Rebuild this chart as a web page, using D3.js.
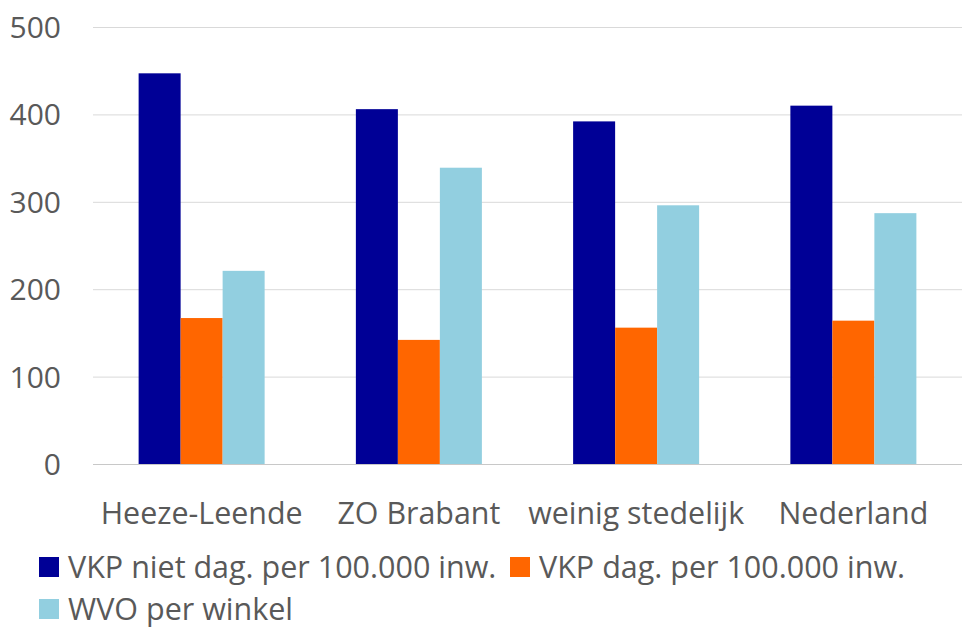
<!DOCTYPE html>
<html><head><meta charset="utf-8">
<script src="https://cdn.jsdelivr.net/npm/d3@7"></script>
<style>body{margin:0;background:#fff;}svg{display:block;}text{font-family:"Open Sans",sans-serif;fill:#595959;}</style>
</head><body>
<svg id="c" width="977" height="639"></svg>
<script>
const categories = ["Heeze-Leende","ZO Brabant","weinig stedelijk","Nederland"];
const seriesNames = ["VKP niet dag. per 100.000 inw.","VKP dag. per 100.000 inw.","WVO per winkel"];
const vkpNietDag = [447, 406, 392, 410];
const vkpDag = [167, 142, 156, 164];
const wvoPerWinkel = [221, 339, 296, 287];
const yTicks = [0,100,200,300,400,500];
const colors = ["#000096","#FF6600","#92CFE0"];
const series = [vkpNietDag, vkpDag, wvoPerWinkel];

(function(){
const svg = d3.select("#c");
const mLeft = 93, mRight = 962, mTop = 27, mBottom = 464;
const x = d3.scaleBand().domain(categories).range([mLeft,mRight]).paddingInner(0.42).paddingOuter(0.21);
const xs = d3.scaleBand().domain(d3.range(series.length)).range([0,x.bandwidth()]);
const y = d3.scaleLinear().domain([0,500]).range([mBottom,mTop]);

svg.append("g").selectAll("line").data(yTicks).join("line")
  .attr("x1",mLeft).attr("x2",mRight).attr("y1",d=>y(d)+0.5).attr("y2",d=>y(d)+0.5)
  .attr("stroke",d=>d===0?"#c8c8c8":"#d9d9d9").attr("stroke-width",1);

const yAxis = d3.axisLeft(y).tickValues(yTicks).tickSize(0).tickPadding(0);
const ga = svg.append("g").attr("transform",`translate(61,0)`).call(yAxis);
ga.select(".domain").remove();
ga.selectAll("text").style("font-size","30px").style("fill","#595959").style("font-family","'Open Sans',sans-serif").attr("dy","0.35em");

series.forEach((s,si)=>{
  svg.append("g").selectAll("rect").data(s).join("rect")
    .attr("x",(d,i)=>x(categories[i])+xs(si))
    .attr("width",xs.bandwidth())
    .attr("y",d=>y(d)).attr("height",d=>y(0)-y(d))
    .attr("fill",colors[si]);
});

const xAxis = d3.axisBottom(x).tickSize(0).tickPadding(0);
const gx = svg.append("g").attr("transform",`translate(0,${mBottom})`).call(xAxis);
gx.select(".domain").remove();
gx.selectAll("text").style("font-size","30.4px").style("fill","#595959").style("font-family","'Open Sans',sans-serif").attr("y",60).attr("dy",0);

const legendPos = [[39,567],[510,567],[39,609]];
const lg = svg.append("g");
seriesNames.forEach((n,i)=>{
  const [lx,ly] = legendPos[i];
  lg.append("rect").attr("x",lx).attr("y",ly-10).attr("width",20).attr("height",20).attr("fill",colors[i]);
  lg.append("text").attr("x",lx+29).attr("y",ly).attr("dy","0.35em").style("font-size","30.5px").text(n);
});
})();
</script>
</body></html>
